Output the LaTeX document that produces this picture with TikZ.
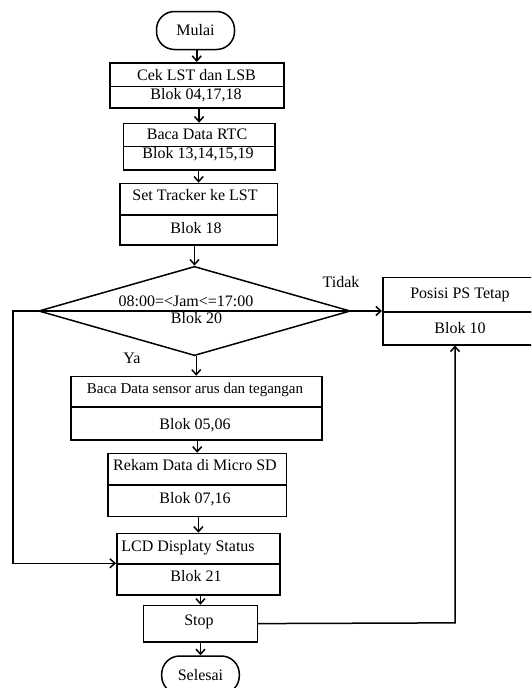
\documentclass[tikz,border=0pt]{standalone}
\usepackage{fontspec}
\setmainfont{Liberation Serif}
\usetikzlibrary{shapes.geometric,arrows.meta}
\begin{document}
\begin{tikzpicture}[x=1pt,y=-1pt,
  line width=1.5pt,
  part/.style={draw, line width=1.5pt, inner sep=0pt, anchor=north west},
  txt/.style={inner sep=0pt, text height=10.5pt, text depth=0pt, font=\fontsize{16}{18}\selectfont},
  term/.style={draw, rounded corners=18pt, inner sep=0pt, minimum width=78pt, minimum height=38pt,
    text height=10.5pt, text depth=0pt, font=\fontsize{16}{18}\selectfont},
  arr/.style={-{Straight Barb[length=5pt,width=9pt]}, line width=1.5pt}
]
\useasboundingbox (0,0) rectangle (531,688);
\fill[white] (0,0) rectangle (531,688);
\clip (0,0) rectangle (531,688);

% terminators
\node[term] (mulai) at (195.5,30.5) {Mulai};
\node[term, minimum width=77.6pt] (selesai) at (200.5,675) {Selesai};

% box 1
\node[part, minimum width=174pt, minimum height=23.7pt] (b1t) at (109,62) {};
\node[part, minimum width=174pt, minimum height=21.6pt] (b1b) at (109,85.7) {};
\node[txt] (t1a) at (196.5,75.5) {Cek LST dan LSB};
\node[txt] (t1b) at (196,94.3) {Blok 04,17,18};

% box 2
\node[part, minimum width=151.3pt, minimum height=23pt] (b2t) at (122.7,122.7) {};
\node[part, minimum width=151.3pt, minimum height=23.6pt] (b2b) at (122.7,145.7) {};
\node[txt] (t2a) at (197,134) {Baca Data RTC};
\node[txt] (t2b) at (198,153) {Blok 13,14,15,19};

% box 3
\node[part, minimum width=157.7pt, minimum height=31.6pt] (b3t) at (119,182.7) {};
\node[part, minimum width=157.7pt, minimum height=30pt] (b3b) at (119,214.3) {};
\node[txt] (t3a) at (195,195) {Set Tracker ke LST};
\node[txt] (t3b) at (196,228.7) {Blok 18};

% decision
\node[draw, shape=diamond, inner sep=0pt, minimum width=311.7pt, minimum height=89.3pt] (dia) at (194.5,311) {};
\node[txt] (td1) at (186,301.5) {08:00=<Jam<=17:00};
\node[txt] (td2) at (196.5,318.5) {Blok 20};
\node[txt] (tidak) at (341,282) {Tidak};
\node[txt] (ya) at (132,358) {Ya};

% posisi box
\node[part, minimum width=156pt, minimum height=34.3pt] (pot) at (382,276.7) {};
\node[part, minimum width=156pt, minimum height=33pt] (pob) at (382,311) {};
\node[txt] (tpa) at (460,293) {Posisi PS Tetap};
\node[txt] (tpb) at (460,328) {Blok 10};

% box 4
\node[part, minimum width=251pt, minimum height=30.3pt] (b4t) at (70,375.7) {};
\node[part, minimum width=251pt, minimum height=33pt] (b4b) at (70,406) {};
\node[txt, font=\fontsize{15}{18}\selectfont] (t4a) at (195,388.3) {Baca Data sensor arus dan tegangan};
\node[txt] (t4b) at (195,424) {Blok 05,06};

% box 5
\node[part, minimum width=178.4pt, minimum height=31.6pt] (b5t) at (107.3,452.7) {};
\node[part, minimum width=178.4pt, minimum height=31.4pt] (b5b) at (107.3,484.3) {};
\node[txt] (t5a) at (195,465) {Rekam Data di Micro SD};
\node[txt] (t5b) at (195,498.3) {Blok 07,16};

% box 6
\node[part, minimum width=163.3pt, minimum height=30.6pt] (b6t) at (116,532.7) {};
\node[part, minimum width=163.3pt, minimum height=31pt] (b6b) at (116,563.3) {};
\node[txt] (t6a) at (188,546) {LCD Displaty Status};
\node[txt] (t6b) at (196,576.7) {Blok 21};

% stop
\node[part, minimum width=114pt, minimum height=36.3pt] (stop) at (142.7,604.7) {};
\node[txt] (tstop) at (199,620) {Stop};

% connectors
\draw[arr] (b1t.north |- mulai.south) -- (b1t.north);
\draw[arr] (b2t.north |- b1b.south) -- (b2t.north);
\draw[arr] (b3t.north |- b2b.south) -- (b3t.north);
\draw[arr] (dia.north |- b3b.south) -- (dia.north);
\draw[arr] (b4t.north |- dia.south) -- (b4t.north);
\draw[arr] (b5t.north |- b4b.south) -- (b5t.north);
\draw[arr] (b6t.north |- b5b.south) -- (b6t.north);
\draw[arr] (stop.north |- b6b.south) -- (stop.north);
\draw[arr] (selesai.north |- stop.south) -- (selesai.north);

\draw (dia.west) -- (dia.east);
\draw[arr] (dia.east) -- (pob.north west);
\coordinate (lc) at (13,311);
\draw[arr] (dia.west) -- (lc) |- (b6b.north west);
\coordinate (rc) at (455,622.85);
\draw[arr] (stop.east) -- (rc) -- (rc |- pob.south);
\end{tikzpicture}
\end{document}
